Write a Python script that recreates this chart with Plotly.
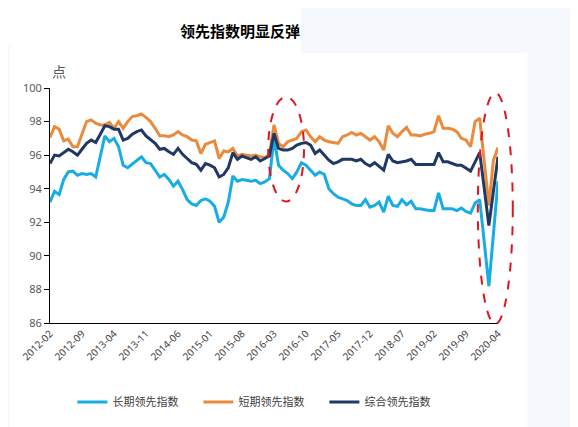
import pandas as pd
import plotly.graph_objects as go

# monthly, 2012-02 .. 2020-04
months = pd.date_range("2012-02-01", "2020-04-01", freq="MS").strftime("%Y-%m").tolist()

long_lead = [
    93.2, 93.85, 93.65, 94.55, 95.0, 95.05, 94.8, 94.9, 94.85, 94.9,
    94.7, 95.95, 97.15, 96.8, 97.0, 96.5, 95.4, 95.25, 95.45, 95.65,
    95.9, 95.55, 95.5, 95.1, 94.7, 94.85, 94.55, 94.15, 94.45, 93.95,
    93.35, 93.1, 93.0, 93.3, 93.4, 93.25, 92.95, 92.0, 92.3, 93.2,
    94.75, 94.45, 94.55, 94.5, 94.45, 94.5, 94.3, 94.4, 94.6, 97.0,
    95.4, 95.1, 94.9, 94.6, 95.0, 95.55, 95.4, 95.1, 94.8, 95.0,
    94.85, 94.0, 93.7, 93.5, 93.4, 93.3, 93.1, 93.0, 93.0, 93.35,
    92.9, 93.0, 93.2, 92.6, 93.55, 93.0, 92.95, 93.35, 93.05, 93.25,
    92.8, 92.8, 92.75, 92.7, 92.7, 93.75, 92.8, 92.8, 92.8, 92.7,
    92.85, 92.65, 92.55, 93.15, 93.35, 90.8, 88.2, 91.3, 94.45,
]

short_lead = [
    97.05, 97.7, 97.55, 96.85, 96.95, 96.5, 96.5, 97.2, 98.0, 98.1,
    97.9, 97.8, 97.8, 97.95, 97.6, 98.0, 97.6, 98.0, 98.3, 98.35,
    98.45, 98.25, 98.0, 97.6, 97.15, 97.15, 97.1, 97.2, 97.4, 97.2,
    97.1, 96.9, 96.85, 96.1, 96.65, 96.75, 96.85, 95.8, 96.25, 96.2,
    96.4, 95.95, 96.05, 96.0, 95.95, 96.0, 95.9, 95.85, 96.05, 97.8,
    96.7, 96.5, 96.8, 96.9, 97.0, 97.4, 97.5, 97.1, 96.8, 97.1,
    96.9, 96.8, 96.75, 96.7, 97.1, 97.2, 97.35, 97.2, 97.3, 97.1,
    96.9, 97.1, 96.8, 96.3, 97.75, 97.3, 97.1, 97.4, 97.65, 97.2,
    97.2, 97.15, 97.25, 97.3, 97.4, 98.35, 97.6, 97.6, 97.55, 97.4,
    97.0, 96.9, 96.5, 98.0, 98.2, 95.6, 93.0, 95.7, 96.45,
]

composite_lead = [
    95.5, 96.0, 95.95, 96.15, 96.35, 96.2, 96.0, 96.35, 96.7, 96.9,
    96.75, 97.25, 97.75, 97.7, 97.55, 97.55, 96.9, 97.0, 97.25, 97.4,
    97.5, 97.15, 96.95, 96.7, 96.35, 96.4, 96.2, 96.05, 96.4, 96.05,
    95.8, 95.55, 95.45, 95.1, 95.5, 95.4, 95.25, 94.7, 94.85, 95.25,
    96.15, 95.75, 95.95, 95.85, 95.75, 95.9, 95.65, 95.8, 95.95, 97.3,
    96.4, 96.3, 96.3, 96.4, 96.6, 96.7, 96.75, 96.6, 96.1, 96.3,
    96.0, 95.7, 95.5, 95.6, 95.75, 95.75, 95.75, 95.65, 95.75, 95.5,
    95.35, 95.55, 95.35, 95.1, 96.05, 95.65, 95.55, 95.6, 95.65, 95.75,
    95.45, 95.45, 95.45, 95.45, 95.45, 96.15, 95.6, 95.6, 95.5, 95.4,
    95.4, 95.25, 95.05, 95.6, 96.15, 94.0, 91.8, 93.85, 95.9,
]

series = [
    ("长期领先指数", long_lead, "#17ade4"),
    ("短期领先指数", short_lead, "#ea8a3c"),
    ("综合领先指数", composite_lead, "#203864"),
]

fig = go.Figure()
for name, vals, color in series:
    fig.add_trace(go.Scatter(
        x=months, y=vals, name=name, mode="lines",
        line=dict(color=color, width=3),
    ))

tick_font = dict(family="Noto Sans, DejaVu Sans, sans-serif", size=10, color="#404040")

# background panels (slide look) and the two dashed ellipses
bg = "#f5f8fc"
shapes = [
    dict(type="rect", xref="paper", yref="paper", x0=1.066, x1=1.3, y0=-0.6, y1=1.6,
         fillcolor=bg, line_width=0, layer="below"),
    dict(type="rect", xref="paper", yref="paper", x0=0.56, x1=1.3, y0=1.15, y1=1.6,
         fillcolor=bg, line_width=0, layer="below"),
    dict(type="rect", xref="paper", yref="paper", x0=-0.2, x1=-0.09, y0=-0.6, y1=1.18,
         fillcolor=bg, line_width=0, layer="below"),
    dict(type="circle", xref="paper", yref="paper", x0=0.487, x1=0.567, y0=0.517, y1=0.962,
         line=dict(color="#e0141e", width=2, dash="dash")),
    dict(type="circle", xref="paper", yref="paper", x0=0.955, x1=1.033, y0=-0.004, y1=0.979,
         line=dict(color="#e0141e", width=2, dash="dash")),
]

# page body adds an 8px margin, so the figure is 8px smaller than the window
fig.update_layout(
    width=570, height=419,
    margin=dict(l=42, r=80, t=80, b=103),
    paper_bgcolor="white",
    plot_bgcolor="white",
    title=dict(text="<b>领先指数明显反弹</b>", x=0.407, xanchor="center",
               y=0.943, yanchor="middle",
               font=dict(family="Noto Sans CJK SC", size=15, color="black")),
    xaxis=dict(
        type="category", automargin=False,
        tickvals=months[::7], ticktext=months[::7],
        tickangle=-45, tickfont=tick_font,
        showline=True, linecolor="black", linewidth=1,
        showgrid=False, ticks="", zeroline=False,
    ),
    yaxis=dict(
        range=[86, 100], dtick=2, automargin=False,
        tickfont=dict(family="Noto Sans, DejaVu Sans, sans-serif", size=11, color="#595959"),
        showline=True, linecolor="black", linewidth=1,
        ticks="outside", ticklen=5, tickcolor="black",
        showgrid=False, zeroline=False,
    ),
    legend=dict(
        orientation="h", x=0.05, xanchor="left", y=-0.33, yanchor="middle",
        font=dict(family="Noto Sans CJK SC", size=11, color="#404040"),
        entrywidth=81, entrywidthmode="pixels",
        bgcolor="rgba(0,0,0,0)",
    ),
    shapes=shapes,
    annotations=[dict(
        text="点", xref="paper", yref="paper", x=0.0, y=1.02,
        xanchor="left", yanchor="bottom", showarrow=False,
        font=dict(family="Noto Sans CJK SC", size=14, color="#595959"),
    )],
)

fig.write_html("out.html")
